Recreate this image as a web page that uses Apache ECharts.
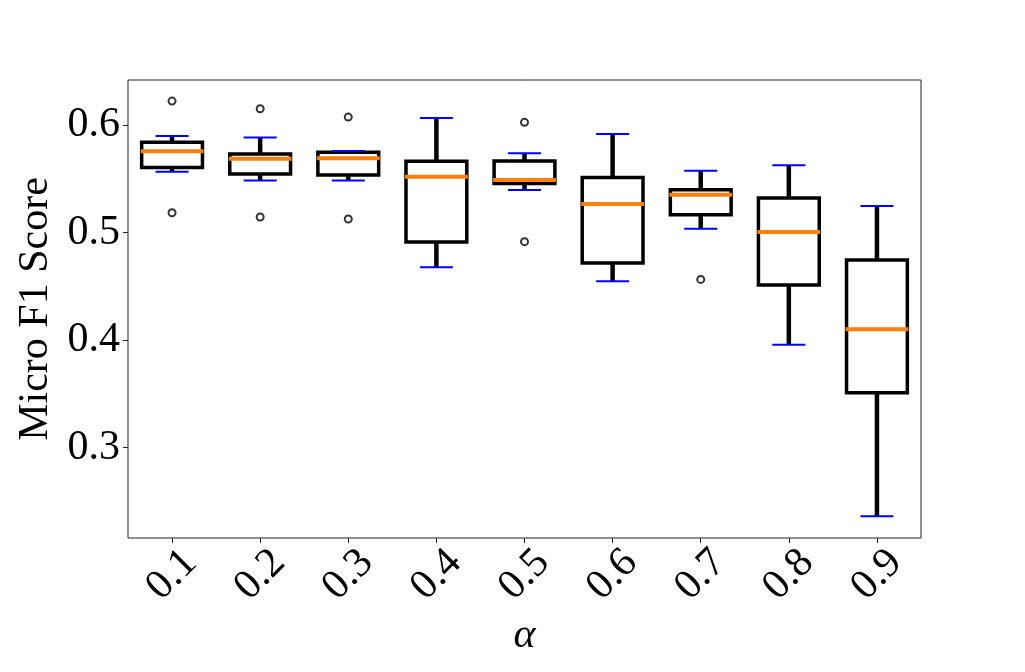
<!DOCTYPE html>
<html>
<head>
<meta charset="utf-8">
<script src="https://cdn.jsdelivr.net/npm/echarts@6/dist/echarts.min.js"></script>
<style>
  html, body { margin: 0; padding: 0; background: #fff; }
  #chart { width: 1025px; height: 672px; }
</style>
</head>
<body>
<div id="chart"></div>
<script>
// alpha 取值
var categories = ['0.1', '0.2', '0.3', '0.4', '0.5', '0.6', '0.7', '0.8', '0.9'];
// 箱线图五数
var whiskerLow  = [0.5566, 0.5485, 0.5485, 0.4676, 0.5395, 0.4546, 0.5035, 0.3956, 0.2360];
var q1          = [0.5606, 0.5544, 0.5535, 0.4912, 0.5457, 0.4716, 0.5166, 0.4512, 0.3510];
var medians     = [0.5755, 0.5687, 0.5690, 0.5519, 0.5488, 0.5265, 0.5352, 0.5005, 0.4100];
var q3          = [0.5839, 0.5730, 0.5746, 0.5662, 0.5665, 0.5513, 0.5398, 0.5321, 0.4744];
var whiskerHigh = [0.5898, 0.5885, 0.5758, 0.6065, 0.5737, 0.5916, 0.5575, 0.5625, 0.5247];
// 离群点 [类别下标, 值]
var outliers = [
  [0, 0.6223], [0, 0.5184],
  [1, 0.6152], [1, 0.5144],
  [2, 0.6074], [2, 0.5126],
  [4, 0.6025], [4, 0.4915],
  [6, 0.4564]
];

var boxData = categories.map(function (c, i) {
  return [i, whiskerLow[i], q1[i], medians[i], q3[i], whiskerHigh[i]];
});

var FONT = '"Liberation Serif", "DejaVu Serif", serif';

function renderBox(params, api) {
  var x = api.value(0);
  var lo = api.coord([x, api.value(1)]);
  var b1 = api.coord([x, api.value(2)]);
  var md = api.coord([x, api.value(3)]);
  var b3 = api.coord([x, api.value(4)]);
  var hi = api.coord([x, api.value(5)]);
  var band = api.size([1, 0])[0];
  var bw = band * 0.69;
  var cw = band * 0.375;
  var cx = lo[0];
  var black = { stroke: '#000', lineWidth: 4.5, fill: null };
  return {
    type: 'group',
    children: [
      // 须线
      { type: 'line', shape: { x1: cx, y1: b3[1], x2: cx, y2: hi[1] }, style: black },
      { type: 'line', shape: { x1: cx, y1: b1[1], x2: cx, y2: lo[1] }, style: black },
      // 箱体
      { type: 'rect', shape: { x: cx - bw / 2, y: b3[1], width: bw, height: b1[1] - b3[1] },
        style: { stroke: '#000', lineWidth: 3.5, fill: null } },
      // 中位数
      { type: 'line', shape: { x1: cx - bw / 2 - 1, y1: md[1], x2: cx + bw / 2 + 1, y2: md[1] },
        style: { stroke: '#ff7f0e', lineWidth: 4 } },
      // 须端
      { type: 'line', shape: { x1: cx - cw / 2, y1: hi[1], x2: cx + cw / 2, y2: hi[1] },
        style: { stroke: '#0000ff', lineWidth: 2 } },
      { type: 'line', shape: { x1: cx - cw / 2, y1: lo[1], x2: cx + cw / 2, y2: lo[1] },
        style: { stroke: '#0000ff', lineWidth: 2 } }
    ]
  };
}

var myChart = echarts.init(document.getElementById('chart'));
var option = {
  animation: false,
  backgroundColor: '#fff',
  grid: {
    left: 128, right: 104, top: 80, bottom: 134,
    show: true, borderColor: '#222', borderWidth: 1, backgroundColor: 'transparent'
  },
  xAxis: {
    type: 'category',
    data: categories,
    boundaryGap: true,
    name: 'α',
    nameLocation: 'middle',
    nameGap: 76,
    nameTextStyle: { fontFamily: FONT, fontStyle: 'italic', fontSize: 42, color: '#000' },
    axisLine: { show: false },
    axisTick: { show: true, alignWithLabel: true, length: 5, lineStyle: { color: '#222', width: 1 } },
    splitLine: { show: false },
    axisLabel: {
      rotate: 45, align: 'center', verticalAlign: 'middle', margin: 37,
      fontFamily: FONT, fontSize: 42, color: '#000', interval: 0
    }
  },
  yAxis: {
    type: 'value',
    min: 0.2158,
    max: 0.6419,
    splitNumber: 4,
    name: 'Micro F1 Score',
    nameLocation: 'middle',
    nameGap: 71,
    nameTextStyle: { fontFamily: FONT, fontSize: 42, color: '#000' },
    axisLine: { show: false },
    axisTick: { show: true, length: 5, lineStyle: { color: '#222', width: 1 } },
    splitLine: { show: false },
    axisLabel: {
      showMinLabel: false, showMaxLabel: false, margin: 8,
      fontFamily: FONT, fontSize: 42, color: '#000',
      formatter: function (v) { return v.toFixed(1); }
    }
  },
  series: [
    {
      type: 'custom',
      renderItem: renderBox,
      encode: { x: 0, y: [1, 2, 3, 4, 5] },
      data: boxData,
      z: 2
    },
    {
      type: 'scatter',
      symbol: 'emptyCircle',
      symbolSize: 7,
      itemStyle: { color: '#000', borderWidth: 1.2 },
      data: outliers,
      z: 3
    }
  ]
};
myChart.setOption(option);
</script>
</body>
</html>
